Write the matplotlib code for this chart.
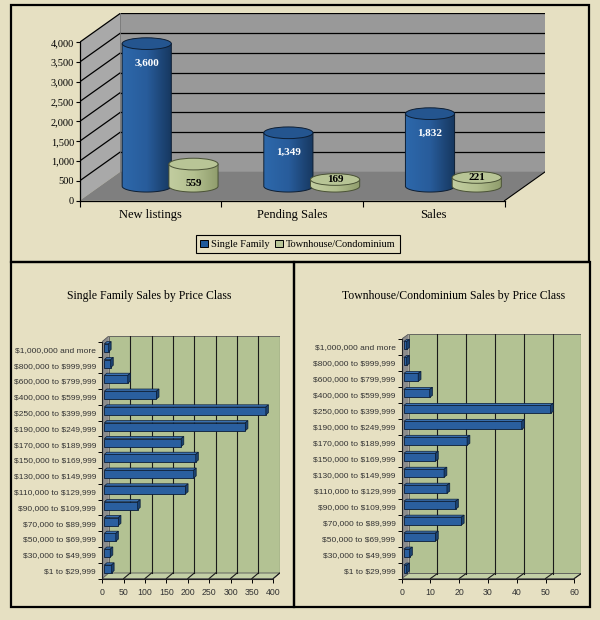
import matplotlib
matplotlib.use('Agg')
import matplotlib.pyplot as plt
import numpy as np
from matplotlib.patches import Polygon, Ellipse, Rectangle, Patch
from matplotlib.colors import LinearSegmentedColormap

plt.rcParams['text.parse_math'] = False

# top chart data
categories = ['New listings', 'Pending Sales', 'Sales']
single_family = [3600, 1349, 1832]
townhouse = [559, 169, 221]
series_names = ['Single Family', 'Townhouse/Condominium']

# price class data (bottom row first)
price_classes = ['$1 to $29,999', '$30,000 to $49,999', '$50,000 to $69,999',
                 '$70,000 to $89,999', '$90,000 to $109,999', '$110,000 to $129,999',
                 '$130,000 to $149,999', '$150,000 to $169,999', '$170,000 to $189,999',
                 '$190,000 to $249,999', '$250,000 to $399,999', '$400,000 to $599,999',
                 '$600,000 to $799,999', '$800,000 to $999,999', '$1,000,000 and more']
sf_by_price = [17, 14, 27, 33, 78, 190, 209, 214, 180, 330, 378, 122, 55, 15, 10]
th_by_price = [1, 2, 11, 20, 18, 15, 14, 11, 22, 41, 51, 9, 5, 1, 1]

BG = '#e6e0c2'
GREEN = '#b3c293'
SERIF = ['Liberation Serif', 'DejaVu Serif']
SMALL = ['Liberation Sans Narrow', 'Liberation Sans', 'DejaVu Sans']

fig = plt.figure(figsize=(6, 6.2), dpi=100, facecolor=BG)


def px_axes(left, top, right, bottom):
    return fig.add_axes([left / 600, 1 - bottom / 620, (right - left) / 600, (bottom - top) / 620])


# ---------------- top 3D cylinder chart ----------------
ax = px_axes(79.6, 13.3, 545.3, 200.7)
ax.set_facecolor('none')
dx, dy = 0.288, 732
ymax = 4000
n = len(categories)

ax.add_patch(Polygon([(-0.5 + dx, dy), (n - 0.5 + dx, dy), (n - 0.5 + dx, ymax + dy), (-0.5 + dx, ymax + dy)],
                     facecolor='#999999', edgecolor='none', zorder=0.5))
ax.add_patch(Polygon([(-0.5, 0), (-0.5 + dx, dy), (-0.5 + dx, ymax + dy), (-0.5, ymax)],
                     facecolor='#a9a9a9', edgecolor='none', zorder=0.5))
ax.add_patch(Polygon([(-0.5, 0), (n - 0.5, 0), (n - 0.5 + dx, dy), (-0.5 + dx, dy)],
                     facecolor='#7f7f7f', edgecolor='none', zorder=0.5))
for v in range(500, ymax + 1, 500):
    ax.plot([-0.5 + dx, n - 0.5 + dx], [v + dy, v + dy], color='black', lw=0.9, zorder=0.6)
    ax.plot([-0.5, -0.5 + dx], [v, v + dy], color='black', lw=0.9, zorder=0.6)
ax.plot([n - 0.5, n - 0.5 + dx], [0, dy], color='black', lw=0.8, zorder=0.6)
ax.plot([-0.5 + dx, -0.5 + dx], [dy, ymax + dy], color='#777777', lw=0.6, zorder=0.6)

cyl_w = 0.347
ell_h = 295
base = dy / 2
offsets = [-0.17, 0.16]
body_cmaps = [LinearSegmentedColormap.from_list('b', ['#2d68ab', '#285c9b', '#16375f']),
              LinearSegmentedColormap.from_list('g', ['#c2cda0', '#b3c08f', '#8f9c6c'])]
top_colors = ['#24558f', '#b8c596']
label_colors = ['white', 'black']
grad = np.linspace(0, 1, 64).reshape(1, -1)

for s, vals in enumerate([single_family, townhouse]):
    for i, v in enumerate(vals):
        xc = i + dx / 2 + offsets[s]
        z = 2 + s
        t = np.linspace(np.pi, 2 * np.pi, 60)
        pts = [(xc - cyl_w / 2, base + v)]
        pts += list(zip(xc + cyl_w / 2 * np.cos(t), base + ell_h / 2 * np.sin(t)))
        pts += [(xc + cyl_w / 2, base + v)]
        outline = Polygon(pts, closed=True, facecolor='none', edgecolor='#0d1e33' if s == 0 else '#4a5236',
                          lw=0.7, zorder=z + 0.1)
        ax.add_patch(outline)
        im = ax.imshow(grad, extent=(xc - cyl_w / 2, xc + cyl_w / 2, base - ell_h / 2, base + v),
                       aspect='auto', cmap=body_cmaps[s], interpolation='bilinear', zorder=z)
        im.set_clip_path(outline)
        ax.add_patch(Ellipse((xc, base + v), cyl_w, ell_h, facecolor=top_colors[s],
                             edgecolor='#0d1e33' if s == 0 else '#4a5236', lw=0.7, zorder=z + 0.2))
        ly = base + (v - 500 if v > 500 else v)
        ax.text(xc, ly, f'{v:,}', ha='center', va='center', fontsize=8, fontweight='bold',
                family=SERIF, color=label_colors[s], zorder=z + 0.3)

ax.set_xlim(-0.5, n - 0.5 + dx)
ax.set_ylim(0, ymax + dy)
for side in ['top', 'right']:
    ax.spines[side].set_visible(False)
ax.spines['left'].set_bounds(0, ymax)
ax.spines['bottom'].set_bounds(-0.5, n - 0.5)
for side in ['left', 'bottom']:
    ax.spines[side].set_zorder(5)
    ax.spines[side].set_linewidth(0.9)
ax.set_yticks(range(0, ymax + 1, 500))
ax.set_yticklabels([f'{v:,}' for v in range(0, ymax + 1, 500)], family=SERIF, fontsize=7.5)
ax.tick_params(axis='y', length=3, width=0.8, pad=1)
ax.set_xticks(range(n))
ax.set_xticklabels(categories, family=SERIF, fontsize=9)
ax.set_xticks(np.arange(-0.5, n, 1), minor=True)
ax.tick_params(axis='x', which='major', length=0, pad=6)
ax.tick_params(axis='x', which='minor', length=4, width=0.8)

handles = [Patch(facecolor='#1f5a9c', edgecolor='black', lw=0.7),
           Patch(facecolor='#b8c596', edgecolor='black', lw=0.7)]
leg = fig.legend(handles, series_names, loc='center', bbox_to_anchor=(298 / 600, 1 - 244.3 / 620),
                 ncol=2, frameon=True, fancybox=False, edgecolor='black', facecolor=BG,
                 prop={'family': SERIF, 'size': 7.5}, handlelength=0.75, handleheight=0.75,
                 handletextpad=0.3, columnspacing=0.5, borderpad=0.4)
leg.get_frame().set_linewidth(0.8)
leg.get_frame().set_alpha(None)


# ---------------- bottom 3D horizontal bar charts ----------------
def price_chart(front_l, front_r, front_t, front_b, ddx, ddy, values, xmax, step, title, title_x):
    rows = len(values)
    a = px_axes(front_l, front_t - ddy, front_r + ddx, front_b)
    a.set_facecolor('none')
    dxu = xmax * ddx / (front_r - front_l)
    dyu = rows * ddy / (front_b - front_t)
    lo, hi = -0.5, rows - 0.5
    a.add_patch(Polygon([(dxu, lo + dyu), (xmax + dxu, lo + dyu), (xmax + dxu, hi + dyu), (dxu, hi + dyu)],
                        facecolor=GREEN, edgecolor='#555555', lw=0.6, zorder=0.5))
    a.add_patch(Polygon([(0, lo), (dxu, lo + dyu), (dxu, hi + dyu), (0, hi)],
                        facecolor='#8c8c8c', edgecolor='none', zorder=0.5))
    a.add_patch(Polygon([(0, lo), (xmax, lo), (xmax + dxu, lo + dyu), (dxu, lo + dyu)],
                        facecolor='#c3cfa6', edgecolor='#555555', lw=0.6, zorder=0.5))
    for v in range(step, xmax + 1, step):
        a.plot([v + dxu, v + dxu], [lo + dyu, hi + dyu], color='#1a1a1a', lw=0.8, zorder=0.6)
        a.plot([v, v + dxu], [lo, lo + dyu], color='#1a1a1a', lw=0.8, zorder=0.6)
    a.plot([0, dxu], [hi, hi + dyu], color='#555555', lw=0.6, zorder=0.6)

    f0, bd, h = 0.3, 0.4, 0.5
    y = np.arange(rows) + f0 * dyu
    a.barh(y, values, height=h, left=f0 * dxu, color='#2a5f9f', edgecolor='#0b1d36', lw=0.6, zorder=2)
    ox, oy = bd * dxu, bd * dyu
    for yi, v in zip(y, values):
        x0, x1 = f0 * dxu, f0 * dxu + v
        a.add_patch(Polygon([(x0, yi + h / 2), (x1, yi + h / 2), (x1 + ox, yi + h / 2 + oy), (x0 + ox, yi + h / 2 + oy)],
                            facecolor='#3a70b0', edgecolor='#0b1d36', lw=0.5, zorder=2.1))
        a.add_patch(Polygon([(x1, yi - h / 2), (x1 + ox, yi - h / 2 + oy), (x1 + ox, yi + h / 2 + oy), (x1, yi + h / 2)],
                            facecolor='#1b426f', edgecolor='#0b1d36', lw=0.5, zorder=2.1))

    a.set_xlim(0, xmax + dxu)
    a.set_ylim(lo, hi + dyu)
    for side in ['top', 'right']:
        a.spines[side].set_visible(False)
    a.spines['left'].set_bounds(lo, hi)
    a.spines['bottom'].set_bounds(0, xmax)
    for side in ['left', 'bottom']:
        a.spines[side].set_zorder(5)
        a.spines[side].set_linewidth(0.8)
        a.spines[side].set_color('#222222')
    a.set_xticks(range(0, xmax + 1, step))
    a.set_xticklabels([str(v) for v in range(0, xmax + 1, step)], family=SMALL, fontsize=6.3, color='#333333')
    a.tick_params(axis='x', length=3, width=0.7, pad=3.5)
    a.set_yticks(range(rows))
    a.set_yticklabels(price_classes, family=SMALL, fontsize=6, color='#333333')
    a.set_yticks(np.arange(lo, hi + 0.1, 1), minor=True)
    a.tick_params(axis='y', which='major', length=0, pad=4.5)
    a.tick_params(axis='y', which='minor', length=3, width=0.7)
    fig.text(title_x / 600, 1 - 295.7 / 620, title, ha='center', va='center', family=SERIF, fontsize=8.5)
    return a


price_chart(102.3, 273.3, 341.5, 578.5, 6.5, 5.5, sf_by_price, 400, 50,
            'Single Family Sales by Price Class', 149)
price_chart(401.7, 574.3, 339.0, 578.5, 7.0, 5.0, th_by_price, 60, 10,
            'Townhouse/Condominium Sales by Price Class', 453.5)

# panel frames
for (l, t, r, b) in [(11, 5, 589, 262), (11, 262, 294, 607), (294, 262, 590, 607)]:
    fig.add_artist(Rectangle((l / 600, 1 - b / 620), (r - l) / 600, (b - t) / 620, fill=False,
                             edgecolor='black', lw=1.6, transform=fig.transFigure))

fig.savefig('out.png', dpi=100, facecolor=BG)
